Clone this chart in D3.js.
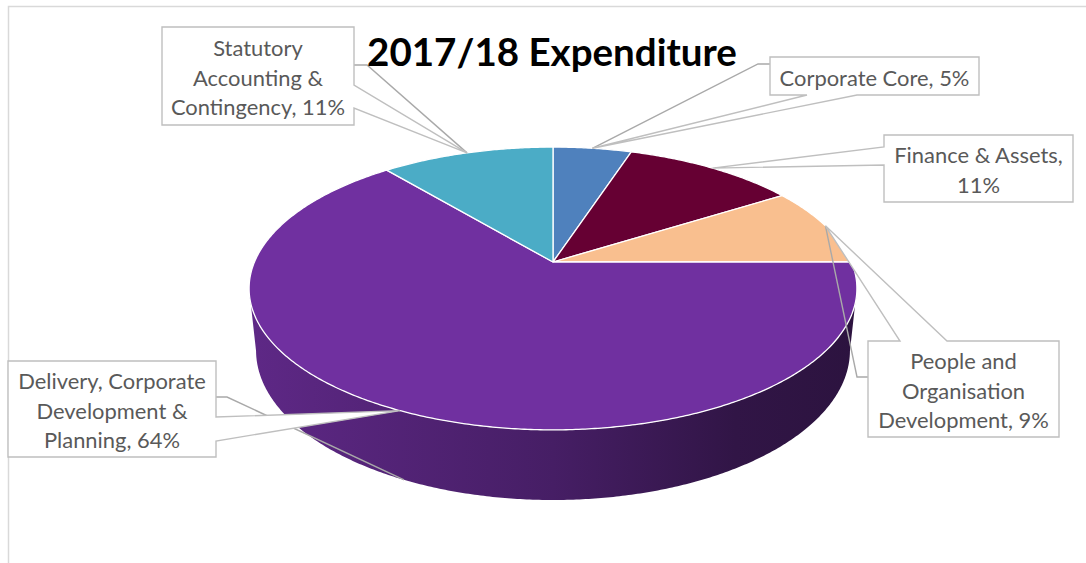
<!DOCTYPE html>
<html>
<head>
<meta charset="utf-8">
<script src="https://cdn.jsdelivr.net/npm/d3@7"></script>
<style>
  html, body { margin: 0; padding: 0; background: #fff; }
  svg { display: block; }
</style>
</head>
<body>
<svg id="chart" width="1086" height="563"></svg>
<script>
// Expenditure shares, in pie order (clockwise from 12 o'clock)
const categories = [
  "Corporate Core",
  "Finance & Assets",
  "People and Organisation Development",
  "Delivery, Corporate Development & Planning",
  "Statutory Accounting & Contingency"
];
const shares = [5, 11, 9, 64, 11];
// Label text broken into lines; "#" is replaced by the share
const labelLines = [
  ["Corporate Core, #"],
  ["Finance & Assets,", "#"],
  ["People and", "Organisation", "Development, #"],
  ["Delivery, Corporate", "Development &", "Planning, #"],
  ["Statutory", "Accounting &", "Contingency, #"]
];
const title = "2017/18 Expenditure";

// Styling
const sliceColors = ["#4f81bd", "#660033", "#f9bf8f", "#7030a0", "#4bacc6"];
const textColor = "#595959";
const calloutStroke = "#bfbfbf";
const leaderStroke = "#a9a9a9";

// Callout layout: box, wedge base on one edge, optional leader elbow
const callouts = [
  { box: [770, 57, 979, 95],   wedge: { side: "bottom", a: 807, b: 857 }, leader: [[770, 64], [758, 64]], toBottom: false },
  { box: [884, 135, 1073, 202], wedge: { side: "left", a: 147, b: 165 }, leader: null, toBottom: false },
  { box: [868, 341, 1059, 437], wedge: { side: "top", a: 900, b: 947 }, leader: [[868, 377], [857, 377]], toBottom: false },
  { box: [8, 361, 216, 457],   wedge: { side: "right", a: 417, b: 441 }, leader: [[216, 397], [227, 397]], toBottom: true },
  { box: [162, 27, 354, 125],  wedge: { side: "right", a: 85, b: 108 }, leader: [[354, 65], [367, 65]], toBottom: false }
];

const svg = d3.select("#chart");
const W = 1086, H = 563;

// Perspective camera for the tilted disc
const cam = { cx: 553, cy: 262, f: 1418, tilt: Math.asin(0.457), dist: 4.75, depth: 0.235 };
const sT = Math.sin(cam.tilt), cT = Math.cos(cam.tilt);
function proj(theta, r, h) {
  const x = r * Math.sin(theta), z = -r * Math.cos(theta);
  const up = h * cT - z * sT;
  const d = cam.dist - (h * sT + z * cT);
  return [cam.cx + cam.f * x / d, cam.cy - cam.f * up / d];
}
function arcPoints(a0, a1, r, h) {
  const n = Math.max(2, Math.ceil(Math.abs(a1 - a0) / (Math.PI / 360)));
  return d3.range(n + 1).map(i => proj(a0 + (a1 - a0) * i / n, r, h));
}
const line = d3.line();
const closed = pts => line(pts) + "Z";

const pie = d3.pie().sort(null).value(d => d)(shares);

// Chart frame
svg.append("rect")
  .attr("x", 8.5).attr("y", 6.5)
  .attr("width", W + 20).attr("height", H + 20)
  .attr("fill", "#fff").attr("stroke", "#d9d9d9").attr("stroke-width", 1.5);

// Side-wall gradients (shaded left to right)
const defs = svg.append("defs");
const leftX = proj(Math.PI / 2 + Math.asin(cT / cam.dist), 1, 0)[0];
const xL = 2 * cam.cx - leftX, xR = leftX;
sliceColors.forEach((c, i) => {
  const g = defs.append("linearGradient")
    .attr("id", "side" + i)
    .attr("gradientUnits", "userSpaceOnUse")
    .attr("x1", xL).attr("x2", xR).attr("y1", 0).attr("y2", 0);
  [[0, 0.5], [0.5, 1.3], [0.8, 2.3], [1, 2.6]].forEach(([o, k]) => {
    g.append("stop").attr("offset", o).attr("stop-color", d3.color(c).darker(k).formatHex());
  });
});

// Visible part of the cylinder wall lies between the two silhouette angles
const sil = Math.PI / 2 + Math.asin(cT / cam.dist);
const silEnd = 2 * Math.PI - sil;
const sides = svg.append("g");
pie.forEach((p, i) => {
  const a0 = Math.max(p.startAngle, sil), a1 = Math.min(p.endAngle, silEnd);
  if (a0 >= a1) return;
  const top = arcPoints(a0, a1, 1, 0);
  const bot = arcPoints(a1, a0, 1, -cam.depth);
  sides.append("path")
    .attr("d", closed(top.concat(bot)))
    .attr("fill", `url(#side${i})`);
});

// Top faces
const tops = svg.append("g");
pie.forEach((p, i) => {
  const pts = [proj(0, 0, 0)].concat(arcPoints(p.startAngle, p.endAngle, 1, 0));
  tops.append("path")
    .attr("d", closed(pts))
    .attr("fill", sliceColors[i])
    .attr("stroke", "#fff")
    .attr("stroke-width", 1.3)
    .attr("stroke-linejoin", "round");
});

// Leader lines
const midAngle = p => (p.startAngle + p.endAngle) / 2;
const leaders = svg.append("g");
pie.forEach((p, i) => {
  const c = callouts[i];
  if (!c.leader) return;
  const end = proj(midAngle(p), 1, c.toBottom ? -cam.depth : 0);
  leaders.append("path")
    .attr("d", line(c.leader.concat([end])))
    .attr("fill", "none")
    .attr("stroke", leaderStroke)
    .attr("stroke-width", 1.4);
});

// Callout shapes (box with a wedge pointing at the slice)
function calloutPath(box, w, apex) {
  const [x0, y0, x1, y1] = box;
  const pts = [[x0, y0]];
  if (w.side === "top") pts.push([w.a, y0], apex, [w.b, y0]);
  pts.push([x1, y0]);
  if (w.side === "right") pts.push([x1, w.a], apex, [x1, w.b]);
  pts.push([x1, y1]);
  if (w.side === "bottom") pts.push([w.b, y1], apex, [w.a, y1]);
  pts.push([x0, y1]);
  if (w.side === "left") pts.push([x0, w.b], apex, [x0, w.a]);
  return closed(pts);
}
const labels = svg.append("g");
pie.forEach((p, i) => {
  const c = callouts[i];
  const apex = proj(midAngle(p), 1, 0);
  labels.append("path")
    .attr("d", calloutPath(c.box, c.wedge, apex))
    .attr("fill", "#fff")
    .attr("stroke", calloutStroke)
    .attr("stroke-width", 1.4)
    .attr("stroke-linejoin", "miter");
});

// Label text, sized so that the single-line label spans its box's text width
const probe = svg.append("text")
  .attr("font-family", "Lato, 'Open Sans', sans-serif")
  .attr("font-size", 24)
  .text(labelLines[0][0].replace("#", shares[0] + "%"));
const labelSize = 24 * 190 / probe.node().getComputedTextLength();
probe.remove();

const lineGap = 29.3;
pie.forEach((p, i) => {
  const c = callouts[i];
  const [x0, y0, x1, y1] = c.box;
  const mx = (x0 + x1) / 2, my = (y0 + y1) / 2;
  const lines = labelLines[i].map(s => s.replace("#", shares[i] + "%"));
  const n = lines.length;
  const t = labels.append("text")
    .attr("font-family", "Lato, 'Open Sans', sans-serif")
    .attr("font-size", labelSize)
    .attr("fill", textColor)
    .attr("text-anchor", "middle")
    .attr("aria-label", categories[i]);
  lines.forEach((s, k) => {
    t.append("tspan")
      .attr("x", mx)
      .attr("y", my + 9.5 + (k - (n - 1) / 2) * lineGap)
      .text(s);
  });
});

// Title
const tt = svg.append("text")
  .attr("x", 552).attr("y", 66)
  .attr("text-anchor", "middle")
  .attr("font-family", "Lato, 'Open Sans', sans-serif")
  .attr("font-weight", "bold")
  .attr("font-size", 40)
  .attr("fill", "#000")
  .text(title);
tt.attr("font-size", 40 * 370 / tt.node().getComputedTextLength());
</script>
</body>
</html>
